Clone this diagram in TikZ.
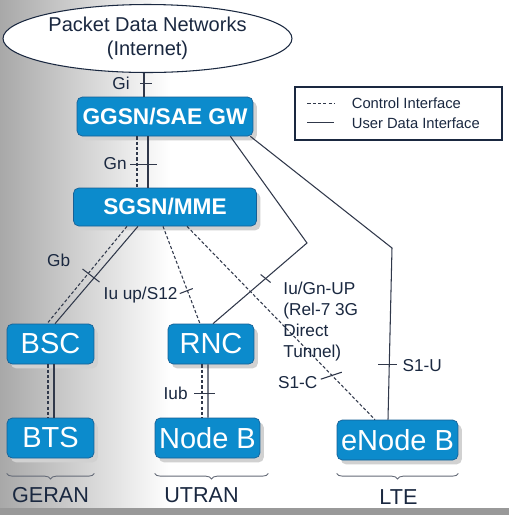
\documentclass[tikz,border=0pt]{standalone}
\usepackage{fontspec}
\setmainfont{Liberation Sans}
\usetikzlibrary{shapes.geometric,shadows,calc,decorations.pathreplacing}
\definecolor{boxblue}{RGB}{12,139,204}
\definecolor{boxedge}{RGB}{22,96,150}
\definecolor{ink}{RGB}{26,40,64}
\definecolor{wire}{RGB}{48,56,74}

\begin{document}
\begin{tikzpicture}[x=0.02cm,y=-0.02cm,
  unit/.style={rounded corners=3pt,fill=boxblue,draw=boxedge,text=white,inner sep=0pt,
    drop shadow={shadow xshift=2.2pt,shadow yshift=-2.5pt,fill=black!18,opacity=1}},
  core/.style={unit,font=\fontsize{12.9}{14}\selectfont\bfseries},
  ran/.style={unit,font=\fontsize{16.5}{18}\selectfont,minimum height=0.8cm},
  ctrl/.style={draw=wire,line width=0.6pt,dash pattern=on 1.8pt off 1.2pt},
  user/.style={draw=wire,line width=0.6pt},
  tick/.style={draw=wire,line width=0.6pt},
  lbl/.style={text=ink,font=\fontsize{9.8}{11.9}\selectfont,inner sep=0pt},
  reg/.style={text=ink,font=\fontsize{12.3}{14}\selectfont,inner sep=0pt},
  brc/.style={draw=wire!75,line width=0.5pt,decorate,decoration={brace,amplitude=3.2pt}}]
\useasboundingbox (0,0) rectangle (509,515);
\fill[white] (0,0) rectangle (509,508);
\begin{scope}[y=0.02cm]
\shade[left color=black!34,right color=white] (0,-508) rectangle (170,0);
\end{scope}
\fill[black!40] (0,508) rectangle (509,515);

\node[ellipse,draw=ink,line width=0.6pt,fill=white,minimum width=5.78cm,minimum height=1.36cm,
  inner xsep=-6pt,inner ysep=0pt,align=center,text=ink,font=\fontsize{11.4}{13.6}\selectfont] (pdn) at (147.5,38.5) {Packet Data Networks\\(Internet)};
\node[core,minimum width=3.52cm,minimum height=0.78cm] (ggsn) at (165,116.5) {GGSN/SAE GW};
\node[core,minimum width=3.66cm,minimum height=0.76cm] (sgsn) at (165,207) {SGSN/MME};
\node[ran,minimum width=1.74cm] (bsc) at (50.5,344) {BSC};
\node[ran,minimum width=1.74cm] (bts) at (50.5,438) {BTS};
\node[ran,minimum width=1.72cm] (rnc) at (211,344) {RNC};
\node[ran,minimum width=2.1cm] (nodeb) at (207.5,438) {Node B};
\node[ran,minimum width=2.42cm] (enodeb) at (397.5,440) {eNode B};

\node[draw=ink,line width=0.6pt,minimum width=4.14cm,minimum height=1.06cm,inner sep=0pt] (legend) at (398.5,113.5) {};
\draw[ctrl] ($(legend.north west)+(13,17)$) -- ++(27,0);
\draw[user] ($(legend.north west)+(13,36)$) -- ++(27,0);
\node[lbl,font=\fontsize{8.4}{10}\selectfont,anchor=west] (ctrltxt) at ($(legend.north west)+(57,17)$) {Control Interface};
\node[lbl,font=\fontsize{8.4}{10}\selectfont,anchor=west] (usertxt) at ($(legend.north west)+(57,37)$) {User Data Interface};

\draw[user] ($(pdn.south)+(-3.5,0)$) -- coordinate[pos=.44](git) ($(ggsn.north)+(-21,0)$);
\draw[tick] ($(git)+(-4,0)$) -- ($(git)+(8,0)$);
\node[lbl,anchor=east] (gi) at ($(git)+(-14,0)$) {Gi};

\draw[ctrl] ($(ggsn.south)+(-28,0)$) -- ($(sgsn.north)+(-28,0)$);
\draw[user] ($(ggsn.south)+(-17,0)$) -- coordinate[pos=.54](gnt) ($(sgsn.north)+(-17,0)$);
\draw[tick] ($(gnt)+(-18,0)$) -- ($(gnt)+(9,0)$);
\node[lbl,anchor=east] (gn) at ($(gnt)+(-21,0)$) {Gn};

\draw[ctrl] ($(sgsn.south)+(-38,0)$) -- ($(bsc.north)+(-3.5,0)$);
\draw[user] ($(sgsn.south)+(-27,0)$) -- coordinate[pos=.5](gbt) ($(bsc.north)+(4.5,0)$);
\draw[tick] ($(gbt)+(-14,-6)$) -- ($(gbt)+(3,7)$);
\node[lbl,anchor=east] (gb) at ($(gbt)+(-26,-15)$) {Gb};

\draw[ctrl] ($(sgsn.south)+(-2,0)$) -- coordinate[pos=.67](iut) ($(rnc.north)+(-11,0)$);
\draw[tick] ($(iut)+(-8,2)$) -- ($(iut)+(5,-3)$);
\node[lbl,anchor=east] (iu) at ($(iut)+(-10,3)$) {Iu up/S12};

\draw[ctrl] ($(sgsn.south)+(22,0)$) -- coordinate[pos=.77](s1ct) ($(enodeb.north)+(-22.5,0)$);
\draw[tick] ($(s1ct)+(-11,4)$) -- ($(s1ct)+(10,-3)$);
\node[lbl,anchor=east] (s1c) at ($(s1ct)+(-14,7.5)$) {S1-C};

\coordinate (dtbend) at (307,243);
\draw[user] ($(ggsn.south east)+(-23,0)$) -- (dtbend) -- coordinate[pos=.44](dtt) ($(rnc.north)+(2,0)$);
\draw[tick] ($(dtt)+(-5,-4)$) -- ($(dtt)+(5,4)$);
\node[lbl,anchor=north west,align=left] (dt) at ($(dtt)+(17.5,3.5)$) {Iu/Gn-UP\\(Rel-7 3G\\Direct\\Tunnel)};

\coordinate (s1bend) at (392,248);
\draw[user] ($(ggsn.south east)+(-3,0)$) -- (s1bend) -- coordinate[pos=.68](s1ut) ($(enodeb.north)+(-9.5,0)$);
\draw[tick] ($(s1ut)+(-11,0)$) -- ($(s1ut)+(8,0)$);
\node[lbl,anchor=west] (s1u) at ($(s1ut)+(13,1)$) {S1-U};

\draw[ctrl] ($(rnc.south)+(-9,0)$) -- ($(nodeb.north)+(-5.5,0)$);
\draw[user] ($(rnc.south)+(-3,0)$) -- coordinate[pos=.54](iubt) ($(nodeb.north)+(0.5,0)$);
\draw[tick] ($(iubt)+(-14,0)$) -- ($(iubt)+(7,0)$);
\node[lbl,anchor=east] (iub) at ($(iubt)+(-20,0)$) {Iub};

\draw[ctrl] ($(bsc.south)+(-2.5,0)$) -- ($(bts.north)+(-2.5,0)$);
\draw[user] ($(bsc.south)+(3.5,0)$) -- ($(bts.north)+(3.5,0)$);

\draw[brc] ($(bts.south east)+(0,15)$) -- ($(bts.south west)+(0,15)$);
\draw[brc] ($(nodeb.south east)+(8,15)$) -- ($(nodeb.south west)+(0,15)$);
\draw[brc] ($(enodeb.south east)+(0,13)$) -- ($(enodeb.south west)+(0,13)$);
\node[reg] (geran) at ($(bts.south)+(0,37)$) {GERAN};
\node[reg] (utran) at ($(nodeb.south)+(-6,37)$) {UTRAN};
\node[reg] (lte) at ($(enodeb.south)+(1,37)$) {LTE};
\end{tikzpicture}
\end{document}
